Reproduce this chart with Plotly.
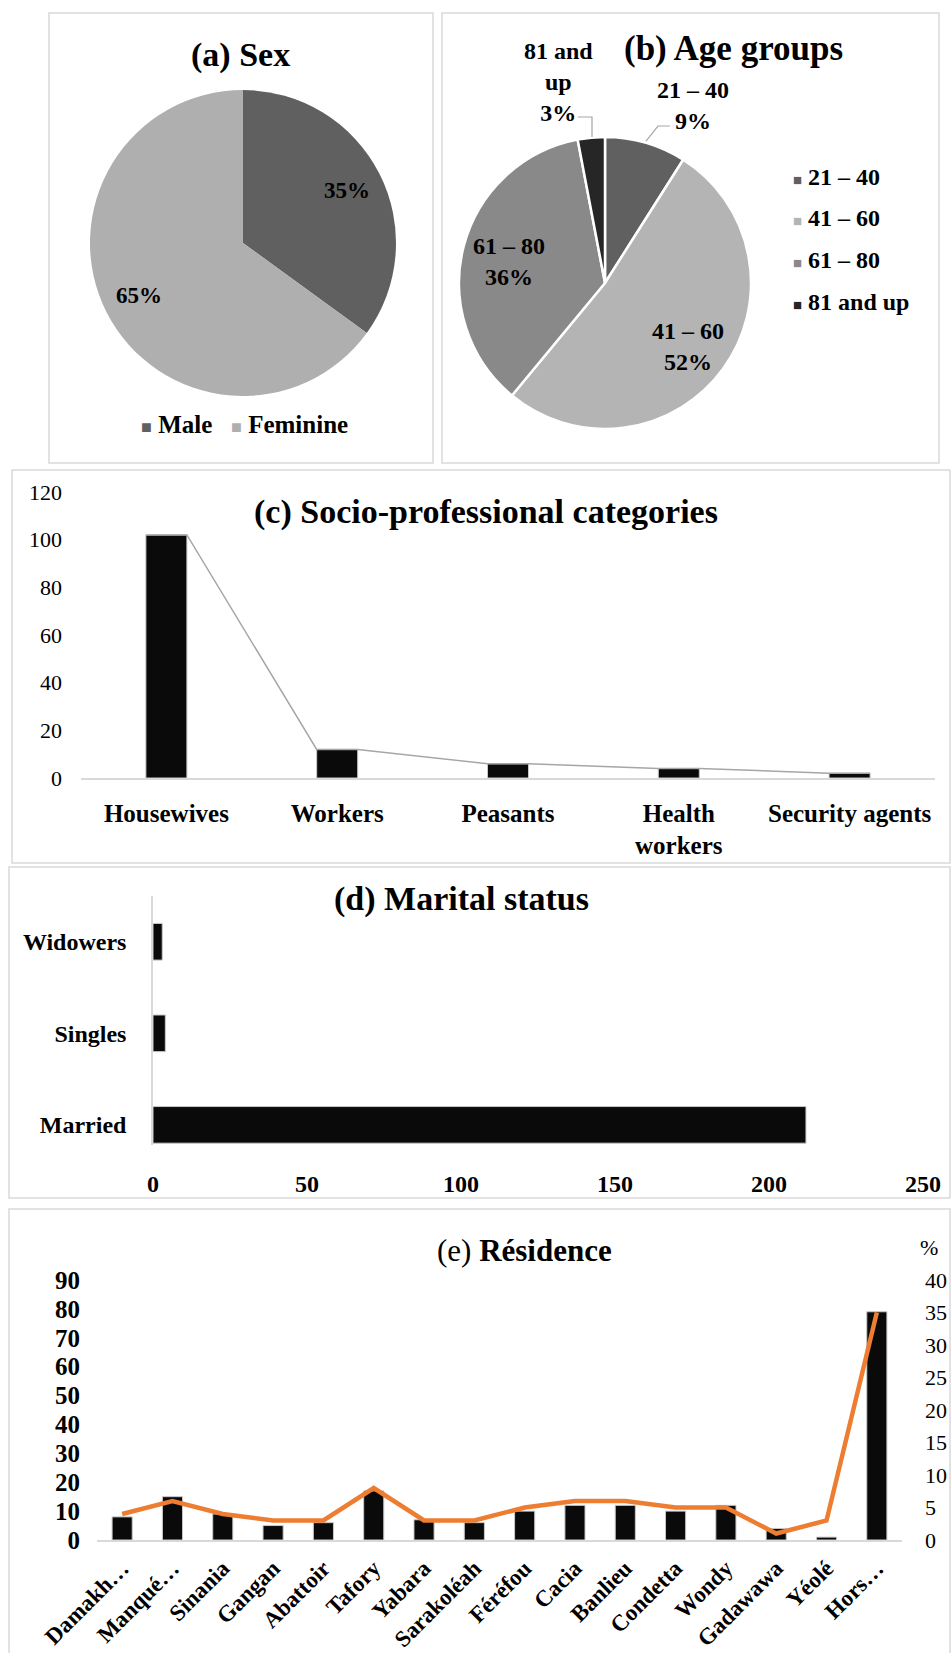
import math
import plotly.graph_objects as go

W, H = 952, 1653
SERIF = "Liberation Serif, Times New Roman, serif"

# ---------------- data ----------------
sex_labels = ["Male", "Feminine"]
sex_values = [35, 65]
sex_colors = ["#606060", "#afafaf"]

age_labels = ["21 – 40", "41 – 60", "61 – 80", "81 and up"]
age_values = [9, 52, 36, 3]
age_colors = ["#606060", "#b4b4b4", "#898989", "#262626"]

socio_labels = ["Housewives", "Workers", "Peasants", "Health<br>workers", "Security agents"]
socio_values = [102, 12, 6, 4, 2]

marital_labels = ["Married", "Singles", "Widowers"]
marital_values = [212, 4, 3]

res_labels = ["Damakh…", "Manqué…", "Sinania", "Gangan", "Abattoir", "Tafory", "Yabara",
              "Sarakoléah", "Féréfou", "Cacia", "Banlieu", "Condetta", "Wondy",
              "Gadawawa", "Yéolé", "Hors…"]
res_counts = [8, 15, 9, 5, 6, 17, 7, 6, 10, 12, 12, 10, 12, 4, 1, 79]
res_pct = [4, 6, 4, 3, 3, 8, 3, 3, 5, 6, 6, 5, 5, 1, 3, 35]


def px(x):
    return x / W


def py(y):
    return 1 - y / H


# pie geometry (pixels): centre and radius
A_CX, A_CY, A_R = 243, 243, 153
B_CX, B_CY, B_R = 605, 283, 146

fig = go.Figure()

# (a) Sex pie
fig.add_trace(go.Pie(
    labels=sex_labels, values=sex_values, sort=False, direction="clockwise", rotation=0,
    domain=dict(x=[px(A_CX - A_R), px(A_CX + A_R)], y=[py(A_CY + A_R), py(A_CY - A_R)]),
    marker=dict(colors=sex_colors, line=dict(width=0)),
    textinfo="none", showlegend=False, hoverinfo="label+percent"))

# (b) Age groups pie
fig.add_trace(go.Pie(
    labels=age_labels, values=age_values, sort=False, direction="clockwise", rotation=0,
    domain=dict(x=[px(B_CX - B_R), px(B_CX + B_R)], y=[py(B_CY + B_R), py(B_CY - B_R)]),
    marker=dict(colors=age_colors, line=dict(width=2.5, color="white")),
    textinfo="none", showlegend=False, hoverinfo="label+percent"))

# (c) Socio-professional categories
bw_c = 0.24
idx_c = list(range(len(socio_values)))
line_x, line_y = [], []
for i, v in zip(idx_c, socio_values):
    line_x += [i - bw_c / 2, i + bw_c / 2]
    line_y += [v, v]
fig.add_trace(go.Bar(x=idx_c, y=socio_values, width=bw_c, xaxis="x", yaxis="y",
                     marker=dict(color="#0a0a0a", line=dict(color="#c8c8c8", width=1)),
                     showlegend=False))
fig.add_trace(go.Scatter(x=line_x, y=line_y, mode="lines", xaxis="x", yaxis="y",
                         line=dict(color="#a6a6a6", width=1.5), showlegend=False,
                         hoverinfo="skip"))

# (d) Marital status
fig.add_trace(go.Bar(x=marital_values, y=marital_labels, orientation="h", width=0.4,
                     xaxis="x2", yaxis="y2",
                     marker=dict(color="#0a0a0a", line=dict(color="#c8c8c8", width=1)),
                     showlegend=False))

# (e) Residence
fig.add_trace(go.Bar(x=res_labels, y=res_counts, width=0.4, xaxis="x3", yaxis="y3",
                     marker=dict(color="#0a0a0a", line=dict(color="#c8c8c8", width=1)),
                     showlegend=False))
fig.add_trace(go.Scatter(x=res_labels, y=res_pct, mode="lines", xaxis="x3", yaxis="y4",
                         line=dict(color="#ED7D31", width=4.5), showlegend=False))

axis_common = dict(showgrid=False, zeroline=False, ticks="", fixedrange=True, automargin=False)
bold25 = dict(family=SERIF, size=25, color="black", weight="bold")
bold24 = dict(family=SERIF, size=24, color="black", weight="bold")

fig.update_layout(
    width=W, height=H, margin=dict(l=0, r=0, t=0, b=0, pad=0, autoexpand=False),
    paper_bgcolor="white", plot_bgcolor="rgba(0,0,0,0)",
    font=dict(family=SERIF, color="black"),
    showlegend=False,
    xaxis=dict(domain=[px(81), px(935)], anchor="y", range=[-0.5, 4.5],
               tickvals=idx_c, ticktext=socio_labels, tickfont=bold25,
               showline=True, linecolor="#d9d9d9", linewidth=1.5, ticklabelstandoff=12,
               **axis_common),
    yaxis=dict(domain=[py(778), py(492)], anchor="x", range=[0, 120], dtick=20,
               tickfont=dict(family=SERIF, size=22, color="black"), showline=False,
               ticklabelstandoff=18, **axis_common),
    xaxis2=dict(domain=[px(153), px(923)], anchor="y2", range=[0, 250], dtick=50,
                tickfont=bold24, showline=False, ticklabelstandoff=22, **axis_common),
    yaxis2=dict(domain=[py(1145), py(896)], anchor="x2", type="category",
                categoryorder="array", categoryarray=marital_labels, range=[-0.22, 2.5],
                tickfont=bold24, showline=True, linecolor="#d9d9d9", linewidth=1.5,
                ticklabelstandoff=20, **axis_common),
    xaxis3=dict(domain=[px(97), px(902)], anchor="y3", type="category",
                categoryorder="array", categoryarray=res_labels, range=[-0.5, 15.5],
                tickangle=-45, tickfont=dict(family=SERIF, size=23, color="black", weight="bold"),
                showline=True, linecolor="#d9d9d9", linewidth=1.5, ticklabelstandoff=4,
                **axis_common),
    yaxis3=dict(domain=[py(1540), py(1280)], anchor="x3", range=[0, 90], dtick=10,
                tickfont=dict(family=SERIF, size=25, color="black", weight="bold"),
                showline=False, ticklabelstandoff=16, **axis_common),
    yaxis4=dict(overlaying="y3", side="right", anchor="x3", range=[0, 40], dtick=5,
                tickfont=dict(family=SERIF, size=22, color="black"),
                showline=False, ticklabelstandoff=22, **axis_common),
)

# panel boxes
boxes = [(49, 13, 433, 463), (442, 13, 939, 463), (12, 470, 950, 863),
         (9, 867, 950, 1198), (9, 1209, 950, 1670)]
shapes = []
for x0, y0, x1, y1 in boxes:
    shapes.append(dict(type="rect", xref="paper", yref="paper", x0=px(x0), x1=px(x1),
                       y0=py(y1), y1=py(y0), line=dict(color="#d9d9d9", width=1.5),
                       layer="below"))
# leader lines (b)
for pts in [[(670, 126), (658, 126), (646, 141)], [(578, 117), (592, 117), (592, 137)]]:
    path = "M " + " L ".join(f"{px(a):.5f},{py(b):.5f}" for a, b in pts)
    shapes.append(dict(type="path", xref="paper", yref="paper", path=path,
                       line=dict(color="#a6a6a6", width=1.2)))
fig.update_layout(shapes=shapes)

ann = []


def add_text(x, y, text, size, bold=True, xanchor="center", yanchor="middle"):
    ann.append(dict(x=px(x), y=py(y), xref="paper", yref="paper", text=text,
                    showarrow=False, xanchor=xanchor, yanchor=yanchor,
                    font=dict(family=SERIF, size=size, color="black",
                              weight="bold" if bold else "normal")))


def slice_label_pos(values, i, cx, cy, r):
    # position along the bisector of slice i (clockwise from 12 o'clock)
    frac = (sum(values[:i]) + values[i] / 2) / sum(values)
    ang = 2 * math.pi * frac
    return cx + r * math.sin(ang), cy - r * math.cos(ang)


# pie (a) percentage labels
tot_a = sum(sex_values)
for i, v in enumerate(sex_values):
    x, y = slice_label_pos(sex_values, i, A_CX, A_CY, 0.76 * A_R)
    add_text(x, y, f"{round(100 * v / tot_a)}%", 23)

# pie (b) inside labels
tot_b = sum(age_values)
for i, rf in [(1, 0.70), (2, 0.68)]:
    x, y = slice_label_pos(age_values, i, B_CX, B_CY, rf * B_R)
    add_text(x, y + 3, f"{age_labels[i]}<br>{round(100 * age_values[i] / tot_b)}%", 24)

add_text(240, 55, "(a) Sex", 34)
add_text(733, 49, "(b) Age groups", 35)
add_text(486, 512, "(c) Socio-professional categories", 34)
add_text(461, 899, "(d) Marital status", 34)
add_text(524, 1250, "(e) <b>Résidence</b>", 31, bold=False)
add_text(929, 1247, "%", 22, bold=False)

# legend (a)
sq = '<span style="color:{c};font-size:{s}px">■</span>'
add_text(245, 425, sq.format(c=sex_colors[0], s=18) + " " + sex_labels[0] + "   "
         + sq.format(c=sex_colors[1], s=18) + " " + sex_labels[1], 25)

# legend (b)
for lab, col, yy in zip(age_labels, age_colors, [177, 218, 260, 302]):
    add_text(791, yy, sq.format(c=col, s=15) + " " + lab, 24, xanchor="left")

# outside labels (b)
add_text(558, 82, f"81 and<br>up<br>{age_values[3]}%", 24)
add_text(693, 105, f"{age_labels[0]}<br>{age_values[0]}%", 24)

fig.update_layout(annotations=ann)

fig.write_html("out.html")
